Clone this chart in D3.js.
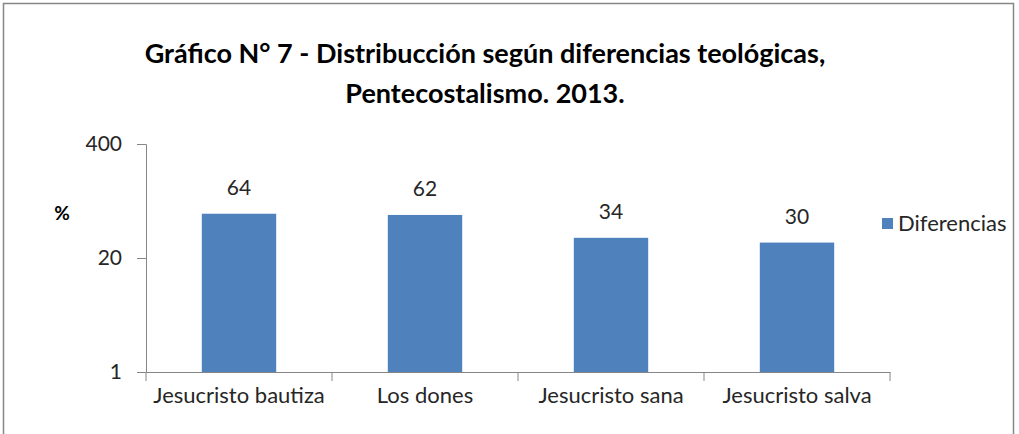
<!DOCTYPE html>
<html>
<head>
<meta charset="utf-8">
<script src="https://cdn.jsdelivr.net/npm/d3@7"></script>
<style>
  body { margin: 0; background: #fff; overflow: hidden; }
  svg { display: block; }
  text { font-family: Lato, "Open Sans", sans-serif; }
</style>
</head>
<body>
<div id="chart"></div>
<script>
const categories = ['Jesucristo bautiza', 'Los dones', 'Jesucristo sana', 'Jesucristo salva'];
const values = [64, 62, 34, 30];
const yTicks = [1, 20, 400];
const seriesName = 'Diferencias';
const titleLines = ['Gráfico N° 7  - Distribucción según diferencias teológicas,', 'Pentecostalismo. 2013.'];

const width = 1019;
const height = 434;
const margin = {top: 144, left: 146, right: 129, bottom: 62};
const innerWidth = width - margin.left - margin.right;
const innerHeight = height - margin.top - margin.bottom;

const svg = d3.select('#chart')
    .append('svg')
        .attr('width', width)
        .attr('height', height);

// outer frame, bottom edge runs off the picture like the original
svg.append('path')
    .attr('d', `M3.5,${height} V3.5 H1013.5 V${height}`)
    .attr('fill', 'none')
    .attr('stroke', '#868686')
    .attr('stroke-width', 1.5);

svg.append('g')
    .selectAll('text')
    .data(titleLines)
    .enter()
    .append('text')
        .attr('x', 485)
        .attr('y', (d, i) => 63 + i * 40)
        .attr('text-anchor', 'middle')
        .attr('font-size', '27px')
        .attr('font-weight', 'bold')
        .attr('fill', '#000')
        .text(d => d);

const g = svg.append('g')
    .attr('transform', `translate(${margin.left},${margin.top})`);

const xScale = d3.scaleBand()
    .domain(categories)
    .range([0, innerWidth])
    .paddingInner(0.6)
    .paddingOuter(0.3);

const yScale = d3.scaleLog()
    .base(20)
    .domain([1, 400])
    .range([innerHeight, 0]);

const yAxis = g.append('g')
    .call(d3.axisLeft(yScale).tickValues(yTicks).tickFormat(d3.format('')).tickSize(9).tickPadding(15));

const xAxis = g.append('g')
    .attr('transform', `translate(0,${innerHeight})`)
    .call(d3.axisBottom(xScale).tickSize(0).tickPadding(15));

// category separators like the original
const bounds = d3.range(categories.length + 1).map(i => i * innerWidth / categories.length);
xAxis.selectAll('.sep')
    .data(bounds)
    .enter()
    .append('line')
        .attr('class', 'sep')
        .attr('x1', d => d).attr('x2', d => d)
        .attr('y1', 0).attr('y2', 9)
        .attr('stroke', '#868686');

g.selectAll('.domain').attr('stroke', '#868686');
g.selectAll('.tick line').attr('stroke', '#868686');
yAxis.selectAll('.tick text').attr('font-size', '21px').attr('fill', '#262626');
xAxis.selectAll('.tick text').attr('font-size', '22px').attr('fill', '#262626');

g.selectAll('.bars')
    .data(values)
    .enter()
    .append('rect')
        .attr('class', 'bars')
        .attr('x', (d, i) => xScale(categories[i]))
        .attr('y', d => yScale(d))
        .attr('width', xScale.bandwidth())
        .attr('height', d => innerHeight - yScale(d))
        .attr('fill', '#4F81BD');

g.selectAll('.val')
    .data(values)
    .enter()
    .append('text')
        .attr('class', 'val')
        .attr('x', (d, i) => xScale(categories[i]) + xScale.bandwidth() / 2)
        .attr('y', d => yScale(d) - 19)
        .attr('text-anchor', 'middle')
        .attr('font-size', '21px')
        .attr('fill', '#262626')
        .text(d => d);

svg.append('text')
    .attr('x', 62)
    .attr('y', 220)
    .attr('text-anchor', 'middle')
    .attr('font-size', '19px')
    .attr('font-weight', 'bold')
    .text('%');

const legend = svg.append('g').attr('transform', 'translate(882,218)');
legend.append('rect')
    .attr('width', 11).attr('height', 11)
    .attr('fill', '#4F81BD');
legend.append('text')
    .attr('x', 16).attr('y', 13)
    .attr('font-size', '22px')
    .attr('fill', '#262626')
    .text(seriesName);
</script>
</body>
</html>
